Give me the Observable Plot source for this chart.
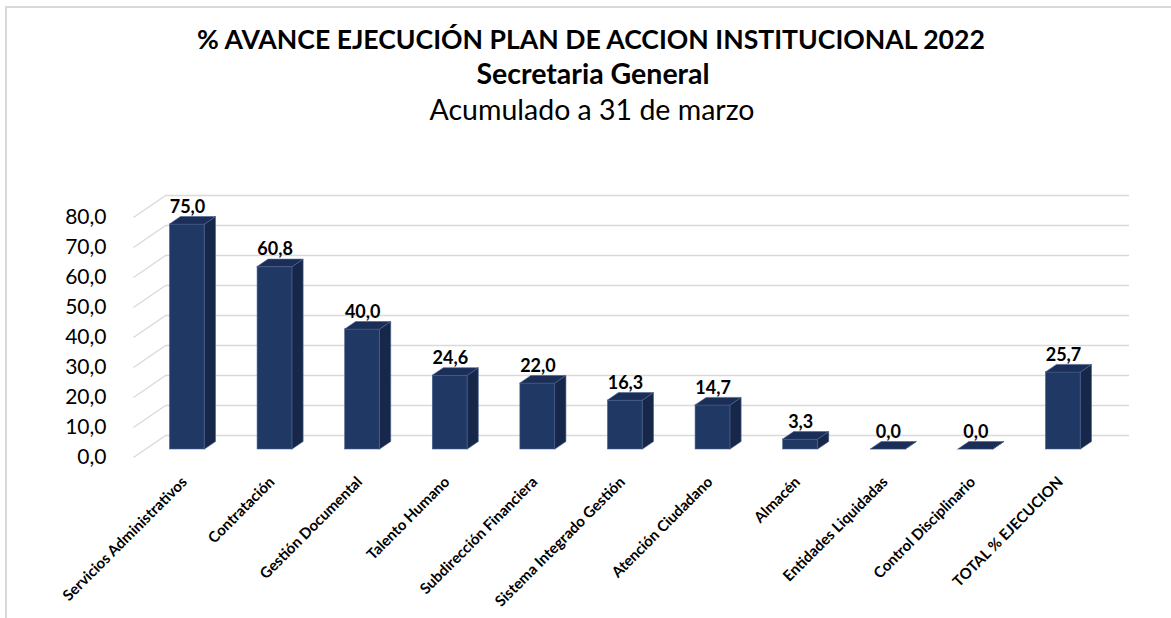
<!DOCTYPE html>
<html>
<head>
<meta charset="utf-8">
<script src="https://cdn.jsdelivr.net/npm/d3@7"></script>
<script src="https://cdn.jsdelivr.net/npm/@observablehq/plot@0.6"></script>
<style>
  html, body { margin: 0; padding: 0; background: #fff; }
  #wrap { position: relative; width: 1171px; height: 618px; overflow: hidden; }
  #frame { position: absolute; left: 5px; top: 6px; right: 0; bottom: 0;
           border-left: 2px solid #d9d9d9; border-top: 2px solid #d9d9d9; pointer-events: none; }
  svg { font-family: Lato, "Open Sans", sans-serif; }
</style>
</head>
<body>
<div id="wrap"><div id="frame"></div></div>
<script>
// ---- data ----
const categories = [
  "Servicios Administrativos", "Contratación", "Gestión Documental", "Talento Humano",
  "Subdirección Financiera", "Sistema Integrado Gestión", "Atención Ciudadano",
  "Almacén", "Entidades Liquidadas", "Control Disciplinario", "TOTAL % EJECUCION"
];
const values = [75.0, 60.8, 40.0, 24.6, 22.0, 16.3, 14.7, 3.3, 0.0, 0.0, 25.7];
const yTicks = [0, 10, 20, 30, 40, 50, 60, 70, 80];
const titleLines = ["% AVANCE EJECUCIÓN PLAN DE ACCION INSTITUCIONAL 2022", "Secretaria General", "Acumulado a 31 de marzo"];

// ---- geometry (3D look) ----
const W = 1171, H = 618;
const step = 87.6, firstCenter = 187;       // px per category, px of first center
const baseY = 449, pxPerUnit = 3;            // px of front zero, px per value unit
const half = 0.2;                            // half bar width in category units
const depthX = 11 / step, depthY = 2.5;      // bar depth offsets
const wallX = -22 / step, wallFrontX = -54 / step, wallY = 14 / 3, wallFrontY = -8 / 3;
const gridEndX = (1129 - firstCenter) / step;

const fmt = v => v.toFixed(1).replace(".", ",");
const table = values.map((v, i) => ({i, v, name: categories[i]}));
const sideFaces = table.flatMap(d => [
  {i: d.i, x: d.i + half, y1: 0, y2: d.v},
  {i: d.i, x: d.i + half + depthX, y1: depthY, y2: d.v + depthY}
]);
const topFaces = table.flatMap(d => [
  {i: d.i, y: d.v, x1: d.i - half, x2: d.i + half},
  {i: d.i, y: d.v + depthY, x1: d.i - half + depthX, x2: d.i + half + depthX}
]);

const frontColor = "#203864", sideColor = "#16274a", topColor = "#1b2e57", edge = "#4a6290";
const grid = "#d9d9d9";

const chart = Plot.plot({
  width: W, height: H,
  marginTop: 0, marginRight: 0, marginBottom: 0, marginLeft: 0,
  x: {type: "linear", domain: [-firstCenter / step, (W - firstCenter) / step], range: [0, W], axis: null},
  y: {type: "linear", domain: [-(H - baseY) / pxPerUnit, baseY / pxPerUnit], range: [H, 0], axis: null},
  marks: [
    Plot.ruleY(yTicks, {y: d => d + wallY, x1: wallX, x2: gridEndX, stroke: grid, strokeWidth: 1.6}),
    Plot.link(yTicks, {x1: wallFrontX, y1: d => d + wallFrontY, x2: wallX, y2: d => d + wallY, stroke: grid, strokeWidth: 1.3}),
    Plot.text(yTicks, {x: wallFrontX, y: d => d + wallFrontY, text: d => fmt(d), textAnchor: "end", dx: -27,
      fontSize: 21, fill: "#000"}),
    Plot.rect(table, {x1: d => d.i - half, x2: d => d.i + half, y1: 0, y2: "v", fill: frontColor, stroke: edge, strokeWidth: 0.6}),
    Plot.areaY(sideFaces, {x: "x", y1: "y1", y2: "y2", z: "i", fill: sideColor, stroke: edge, strokeWidth: 0.6, curve: "linear"}),
    Plot.areaX(topFaces, {y: "y", x1: "x1", x2: "x2", z: "i", fill: topColor, stroke: edge, strokeWidth: 0.6, curve: "linear"}),
    Plot.text(table, {x: "i", y: d => d.v + depthY, text: d => fmt(d.v), dy: -10, fontSize: 18, fontWeight: "bold", fill: "#000"}),
    Plot.text(table, {x: "i", y: (baseY - 479) / pxPerUnit, text: "name", rotate: -45, textAnchor: "end", dx: -3,
      fontSize: 15, fontWeight: "bold", fill: "#000"}),
    Plot.text([titleLines[0]], {frameAnchor: "top", lineAnchor: "middle", dy: 40, dx: 5, text: d => d, fontSize: 26.6, fontWeight: "bold", fill: "#000"}),
    Plot.text([titleLines[1]], {frameAnchor: "top", lineAnchor: "middle", dy: 74, dx: 7, text: d => d, fontSize: 28.5, fontWeight: "bold", fill: "#000"}),
    Plot.text([titleLines[2]], {frameAnchor: "top", lineAnchor: "middle", dy: 110, dx: 6, text: d => d, fontSize: 28.5, fill: "#000"})
  ]
});
document.getElementById("wrap").prepend(chart);
</script>
</body>
</html>
